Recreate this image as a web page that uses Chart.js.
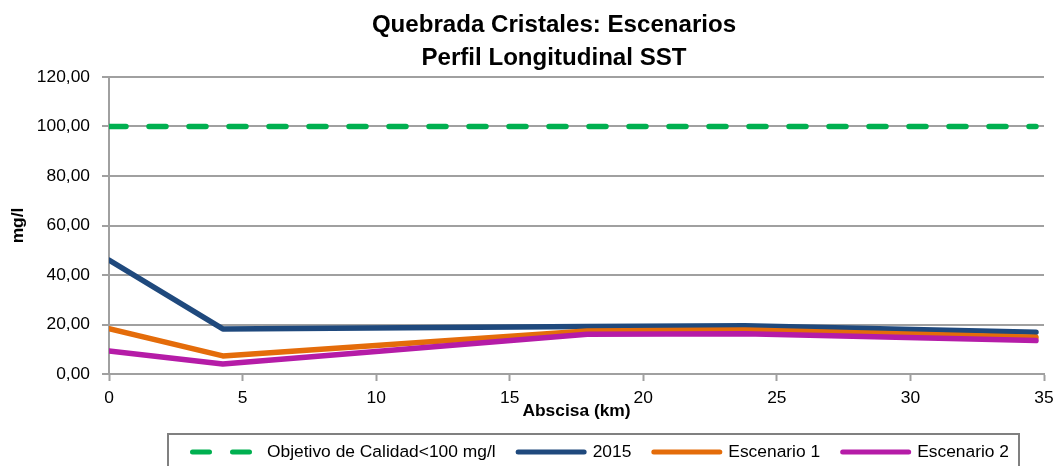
<!DOCTYPE html>
<html lang="es">
<head>
<meta charset="utf-8">
<title>Quebrada Cristales: Escenarios - Perfil Longitudinal SST</title>
<script src="https://cdn.jsdelivr.net/npm/chart.js@4.4.1/dist/chart.umd.min.js"></script>
<style>
  html, body { margin: 0; padding: 0; background: #fff; }
  #grafico { display: block; }
</style>
</head>
<body>
<canvas id="grafico" width="1059" height="466"></canvas>
<script>
// Perfil longitudinal de SST (mg/l) a lo largo de la quebrada
const abscisa = [0, 4.26, 17.9, 23.8, 34.7];          // km
const objetivo = [100, 100, 100, 100, 100];
const sst2015 = [46, 18.2, 19.2, 19.5, 16.9];
const escenario1 = [18.3, 7.3, 17.4, 17.8, 14.8];
const escenario2 = [9.3, 4.0, 16.1, 16.3, 13.5];
const ticksY = [0, 20, 40, 60, 80, 100, 120];
const ticksX = [0, 5, 10, 15, 20, 25, 30, 35];

const familia = '"Liberation Sans Narrow", "Arial Narrow", "Liberation Sans", Arial, sans-serif';
const GRIS = '#a0a0a0';

// Ajusta el tamaño de letra para que un texto ocupe el ancho indicado
function tamanoFuente(texto, peso, ancho) {
    const c = document.createElement('canvas').getContext('2d');
    c.font = peso + ' 100px ' + familia;
    return Math.round(ancho / c.measureText(texto).width * 1000) / 10;
}

const fuenteTexto = tamanoFuente('Objetivo de Calidad<100 mg/l', 'normal', 229);
const fuenteTitulo = tamanoFuente('Quebrada Cristales: Escenarios', 'bold', 364);
const fuenteEje = tamanoFuente('Abscisa (km)', 'bold', 108);

function puntos(valores) {
    return abscisa.map((x, i) => ({ x: x, y: valores[i] }));
}

function serie(nombre, valores, color, orden, trazo) {
    return {
        label: nombre,
        data: puntos(valores),
        borderColor: color,
        backgroundColor: color,
        borderWidth: 5.5,
        borderDash: trazo || [],
        borderCapStyle: 'round',
        borderJoinStyle: 'round',
        pointRadius: 0,
        pointHoverRadius: 0,
        tension: 0,
        fill: false,
        order: orden
    };
}

// Leyenda con recuadro bajo el eje X
const leyendaRecuadro = {
    id: 'leyendaRecuadro',
    afterDraw(chart) {
        const ctx = chart.ctx;
        const top = chart.chartArea.bottom + 60;
        const cy = top + 18;
        let x = 190;
        ctx.save();
        ctx.font = 'normal ' + fuenteTexto + 'px ' + familia;
        ctx.textBaseline = 'middle';
        ctx.fillStyle = '#000';
        chart.data.datasets.forEach(ds => {
            ctx.beginPath();
            ctx.lineWidth = 5;
            ctx.lineCap = 'round';
            ctx.strokeStyle = ds.borderColor;
            ctx.setLineDash(ds.borderDash);
            ctx.moveTo(x + 2.5, cy);
            ctx.lineTo(x + 68.5, cy);
            ctx.stroke();
            ctx.setLineDash([]);
            ctx.fillText(ds.label, x + 77, cy);
            x += 77 + ctx.measureText(ds.label).width + 20;
        });
        ctx.lineWidth = 2;
        ctx.strokeStyle = '#808080';
        ctx.strokeRect(168, top, x - 10 - 168, chart.height - top + 5);
        ctx.restore();
    }
};

// El título va algo desplazado a la derecha del centro del lienzo
const tituloDesplazado = {
    id: 'tituloDesplazado',
    afterLayout(chart) {
        const t = chart.titleBlock;
        if (t) {
            t.left += 32;
            t.right += 32;
        }
    }
};

new Chart(document.getElementById('grafico'), {
    type: 'line',
    data: {
        datasets: [
            serie('Objetivo de Calidad<100 mg/l', objetivo, '#00b050', 3, [17, 23]),
            serie('2015', sst2015, '#1f497d', 2),
            serie('Escenario 1', escenario1, '#e46c0a', 1),
            serie('Escenario 2', escenario2, '#b51ca7', 0)
        ]
    },
    options: {
        responsive: false,
        animation: false,
        events: [],
        layout: { padding: { left: 0, right: 15, top: 0, bottom: 43 } },
        plugins: {
            legend: { display: false },
            tooltip: { enabled: false },
            title: {
                display: true,
                text: ['Quebrada Cristales: Escenarios', 'Perfil Longitudinal SST'],
                color: '#000',
                font: { family: familia, size: fuenteTitulo, weight: 'bold', lineHeight: '33px' },
                padding: { top: 9, bottom: 2 }
            }
        },
        scales: {
            x: {
                type: 'linear',
                min: 0,
                max: 35,
                afterBuildTicks: s => { s.ticks = ticksX.map(v => ({ value: v })); },
                afterFit: s => { s.height = 49; },
                grid: { drawOnChartArea: false, drawTicks: true, tickLength: 7, tickColor: GRIS, tickWidth: 2 },
                border: { color: GRIS, width: 2 },
                ticks: {
                    color: '#000',
                    padding: 5,
                    maxRotation: 0,
                    autoSkip: false,
                    font: { family: familia, size: fuenteTexto, lineHeight: '24px' }
                },
                title: {
                    display: true,
                    text: 'Abscisa (km)',
                    color: '#000',
                    font: { family: familia, size: fuenteEje, weight: 'bold', lineHeight: '24px' },
                    padding: { top: 0, bottom: 0 }
                }
            },
            y: {
                min: 0,
                max: 120,
                afterBuildTicks: s => { s.ticks = ticksY.map(v => ({ value: v })); },
                afterFit: s => { s.width = 109; },
                grid: { color: GRIS, lineWidth: 2, drawTicks: true, tickLength: 7, tickColor: GRIS, tickWidth: 2 },
                border: { color: GRIS, width: 2 },
                ticks: {
                    color: '#000',
                    padding: 12,
                    autoSkip: false,
                    font: { family: familia, size: fuenteTexto, lineHeight: '24px' },
                    callback: v => v.toFixed(2).replace('.', ',')
                },
                title: {
                    display: true,
                    text: 'mg/l',
                    color: '#000',
                    font: { family: familia, size: fuenteEje, weight: 'bold', lineHeight: '24px' },
                    padding: { top: 6, bottom: 0 }
                }
            }
        }
    },
    plugins: [leyendaRecuadro, tituloDesplazado]
});
</script>
</body>
</html>
